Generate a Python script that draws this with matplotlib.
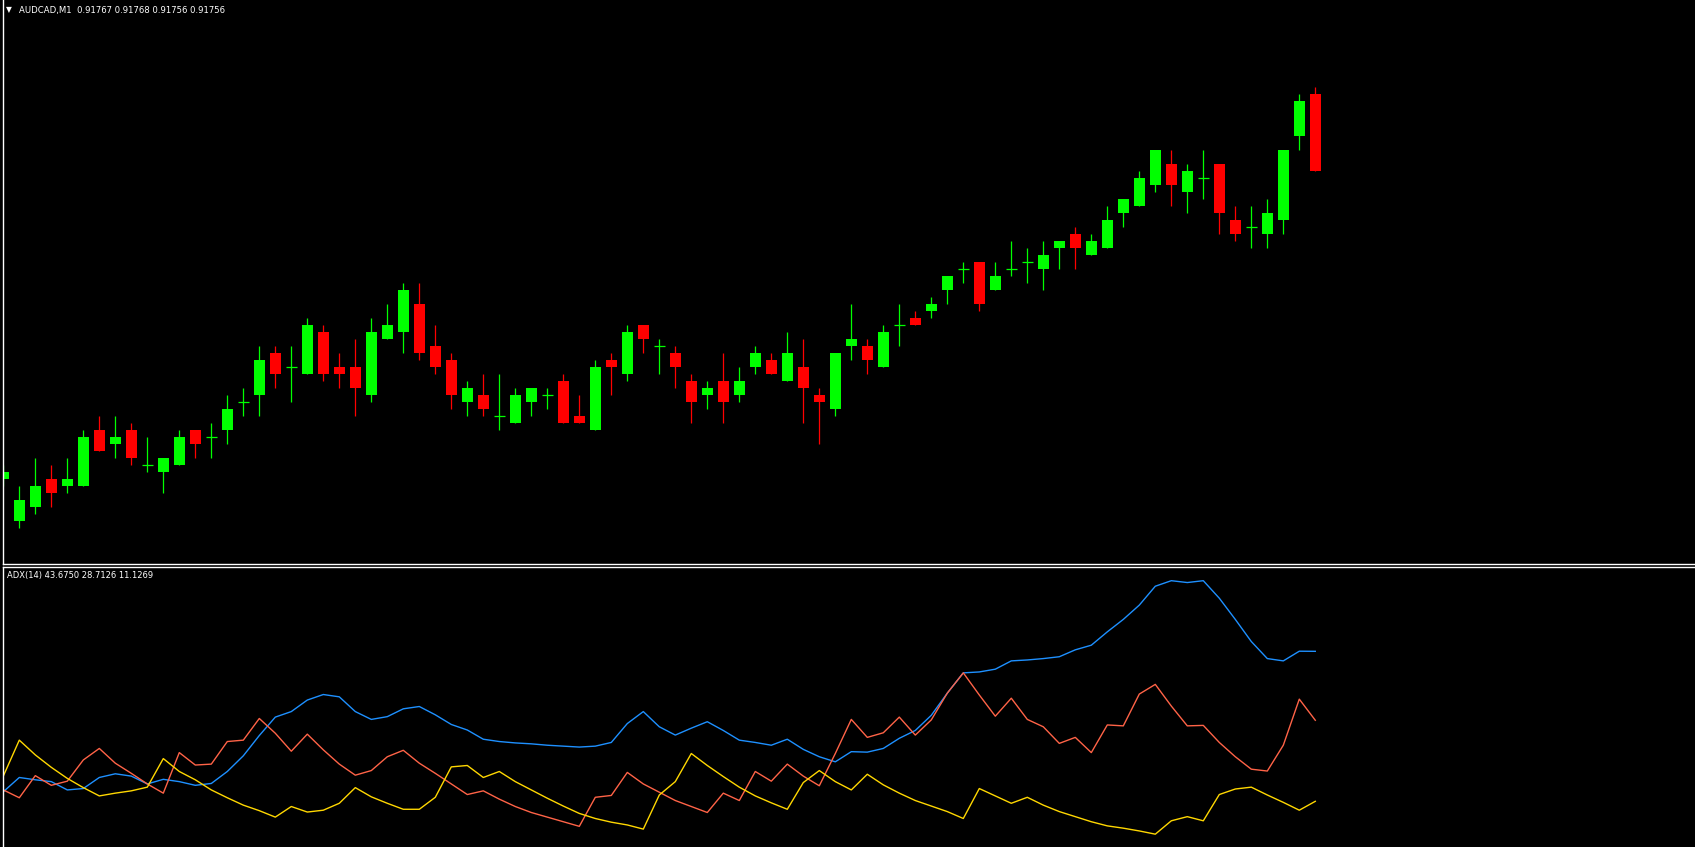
import numpy as np
import matplotlib; matplotlib.use("Agg")
import matplotlib.pyplot as plt

# AUDCAD M1 bars
o=[0.91712,0.91706,0.91708,0.91712,0.91711,0.91711,0.91719,0.91717,0.91719,0.91714,
   0.91713,0.91714,0.91719,0.91718,0.91719,0.91723,0.91724,0.91730,0.91728,0.91727,
   0.91733,0.91728,0.91728,0.91724,0.91732,0.91733,0.91737,0.91731,0.91729,0.91723,
   0.91724,0.91721,0.91720,0.91723,0.91724,0.91726,0.91721,0.91719,0.91729,0.91727,
   0.91734,0.91731,0.91730,0.91726,0.91724,0.91726,0.91724,0.91728,0.91729,0.91726,
   0.91728,0.91724,0.91722,0.91731,0.91731,0.91728,0.91734,0.91735,0.91736,0.91739,
   0.91742,0.91743,0.91739,0.91742,0.91743,0.91742,0.91745,0.91747,0.91744,0.91745,
   0.91750,0.91751,0.91754,0.91757,0.91753,0.91755,0.91757,0.91749,0.91748,0.91747,
   0.91749,0.91761,0.91767]
h=[0.91714,0.91711,0.91715,0.91714,0.91715,0.91719,0.91721,0.91721,0.91720,0.91718,
   0.91715,0.91719,0.91719,0.91720,0.91724,0.91725,0.91731,0.91731,0.91731,0.91735,
   0.91734,0.91730,0.91732,0.91735,0.91737,0.91740,0.91740,0.91734,0.91730,0.91726,
   0.91727,0.91727,0.91725,0.91725,0.91725,0.91727,0.91724,0.91729,0.91730,0.91734,
   0.91734,0.91732,0.91731,0.91727,0.91726,0.91730,0.91728,0.91731,0.91730,0.91733,
   0.91732,0.91725,0.91730,0.91737,0.91732,0.91734,0.91737,0.91736,0.91738,0.91741,
   0.91743,0.91743,0.91743,0.91746,0.91745,0.91746,0.91746,0.91748,0.91747,0.91751,
   0.91752,0.91756,0.91759,0.91759,0.91757,0.91759,0.91757,0.91751,0.91751,0.91752,
   0.91759,0.91767,0.91768]
l=[0.91711,0.91705,0.91707,0.91708,0.91710,0.91711,0.91716,0.91715,0.91714,0.91713,
   0.91710,0.91714,0.91715,0.91715,0.91717,0.91721,0.91721,0.91725,0.91723,0.91727,
   0.91726,0.91725,0.91721,0.91723,0.91732,0.91730,0.91729,0.91727,0.91722,0.91721,
   0.91721,0.91719,0.91720,0.91721,0.91722,0.91720,0.91720,0.91719,0.91724,0.91726,
   0.91730,0.91727,0.91725,0.91720,0.91722,0.91720,0.91723,0.91727,0.91727,0.91726,
   0.91720,0.91717,0.91721,0.91729,0.91727,0.91728,0.91731,0.91734,0.91735,0.91737,
   0.91740,0.91736,0.91739,0.91741,0.91740,0.91739,0.91742,0.91742,0.91744,0.91745,
   0.91748,0.91751,0.91753,0.91751,0.91750,0.91752,0.91747,0.91746,0.91745,0.91745,
   0.91747,0.91759,0.91756]
c=[0.91713,0.91709,0.91711,0.91710,0.91712,0.91718,0.91716,0.91718,0.91715,0.91714,
   0.91715,0.91718,0.91717,0.91718,0.91722,0.91723,0.91729,0.91727,0.91728,0.91734,
   0.91727,0.91727,0.91725,0.91733,0.91734,0.91739,0.91730,0.91728,0.91724,0.91725,
   0.91722,0.91721,0.91724,0.91725,0.91724,0.91720,0.91720,0.91728,0.91728,0.91733,
   0.91732,0.91731,0.91728,0.91723,0.91725,0.91723,0.91726,0.91730,0.91727,0.91730,
   0.91725,0.91723,0.91730,0.91732,0.91729,0.91733,0.91734,0.91734,0.91737,0.91741,
   0.91742,0.91737,0.91741,0.91742,0.91743,0.91744,0.91746,0.91745,0.91746,0.91749,
   0.91752,0.91755,0.91759,0.91754,0.91756,0.91755,0.91750,0.91747,0.91748,0.91750,
   0.91759,0.91766,0.91756]

# ADX(14): main line, +DI, -DI
adx=[13.2,16.3,15.8,15.4,13.6,13.9,16.3,17.1,16.6,14.9,15.9,15.4,14.6,15.0,17.6,21.0,
     25.4,29.4,30.6,33.1,34.3,33.8,30.6,28.9,29.5,31.2,31.7,29.9,27.8,26.6,24.6,24.1,
     23.8,23.6,23.3,23.1,22.9,23.1,23.9,28.0,30.6,27.3,25.5,27.0,28.4,26.5,24.4,23.9,
     23.3,24.6,22.4,20.8,19.7,21.9,21.8,22.6,24.8,26.5,29.8,34.6,39.0,39.2,39.8,41.6,
     41.8,42.1,42.5,44.0,45.0,47.9,50.6,53.7,57.8,59.0,58.6,59.0,55.2,50.6,45.8,42.1,
     41.6,43.7,43.675]
pdi=[13.6,11.9,16.7,14.6,15.5,20.1,22.6,19.4,17.2,14.9,12.9,21.7,19.0,19.2,24.1,24.4,
     29.1,25.9,22.0,25.7,22.3,19.2,16.8,17.8,20.8,22.2,19.4,17.2,14.9,12.6,13.4,11.6,
     10.0,8.7,7.7,6.7,5.7,12.0,12.4,17.4,14.9,13.1,11.3,10.0,8.7,12.9,11.3,17.6,
     15.5,19.2,16.6,14.5,21.5,28.9,25.0,26.0,29.4,25.5,28.8,34.6,39.0,34.2,29.6,33.5,
     28.9,27.3,23.7,25.0,21.7,27.7,27.5,34.4,36.5,31.8,27.5,27.6,23.9,20.8,18.1,17.7,
     23.3,33.3,28.7126]
mdi=[16.6,24.4,21.2,18.5,16.1,14.1,12.3,12.9,13.4,14.2,20.4,17.6,15.8,13.6,11.9,10.3,
     9.1,7.7,10.0,8.8,9.2,10.7,14.1,12.1,10.7,9.4,9.4,12.0,18.6,18.9,16.3,17.6,
     15.4,13.6,11.8,10.1,8.5,7.4,6.6,6.0,5.1,12.5,15.4,21.5,18.9,16.5,14.2,12.3,
     10.8,9.4,15.2,17.8,15.4,13.6,17.0,14.7,12.9,11.3,10.1,8.9,7.4,13.9,12.3,10.7,
     12.0,10.3,8.9,7.8,6.7,5.8,5.3,4.7,4.0,6.9,7.8,6.9,12.6,13.8,14.2,12.5,
     10.9,9.2,11.1269]

W,H=1695,847
fig=plt.figure(figsize=(W/100,H/100),dpi=100,facecolor='black')
L,R=2.5,W
ax=fig.add_axes([L/W,(H-564)/H,(R-L)/W,564/H],facecolor='black')
ax2=fig.add_axes([L/W,0,(R-L)/W,(H-567)/H],facecolor='black')

x=np.arange(len(o)); o=np.array(o); h=np.array(h); l=np.array(l); c=np.array(c)
up=c>=o; col=np.where(up,'#00ff00','#ff0000')
bw=11/16
ax.vlines(x,l,h,colors=col,lw=0.9)
body=np.abs(c-o)
ax.bar(x[body>0],body[body>0],bottom=np.minimum(o,c)[body>0],width=bw,color=col[body>0],linewidth=0)
dj=body==0
ax.hlines(c[dj],x[dj]-bw/2,x[dj]+bw/2,colors=col[dj],lw=0.9)

ax2.plot(x,adx,color='#1e90ff',lw=1)
ax2.plot(x,pdi,color='#ff6347',lw=1)
ax2.plot(x,mdi,color='#ffd700',lw=1)

xl=((L-3.3)/16,(R-3.3)/16)
ax.set_xlim(xl); ax2.set_xlim(xl)
ax.set_ylim(0.91743-(564-262)/7e5, 0.91743+262/7e5)
ax2.set_ylim((852.6-H)/4.6086,(852.6-567)/4.6086)

for a in (ax,ax2):
    a.set_xticks([]); a.set_yticks([])
    for s in a.spines.values(): s.set_visible(False)
    a.spines['left'].set_visible(True); a.spines['left'].set_color('white'); a.spines['left'].set_linewidth(1)
ax.spines['bottom'].set_visible(True); ax.spines['bottom'].set_color('white'); ax.spines['bottom'].set_linewidth(1)
ax2.spines['top'].set_visible(True); ax2.spines['top'].set_color('white'); ax2.spines['top'].set_linewidth(1)

fig.text(6/W,1-10/H,"▼",color='white',fontsize=5.5,va='center',family='DejaVu Sans')
fig.text(19/W,1-10/H,"AUDCAD,M1  0.91767 0.91768 0.91756 0.91756",color='white',fontsize=6.1,va='center',family='DejaVu Sans')
fig.text(7/W,1-575/H,"ADX(14) 43.6750 28.7126 11.1269",color='white',fontsize=6.0,va='center',family='DejaVu Sans')

fig.savefig("out.png",dpi=100,facecolor='black')
